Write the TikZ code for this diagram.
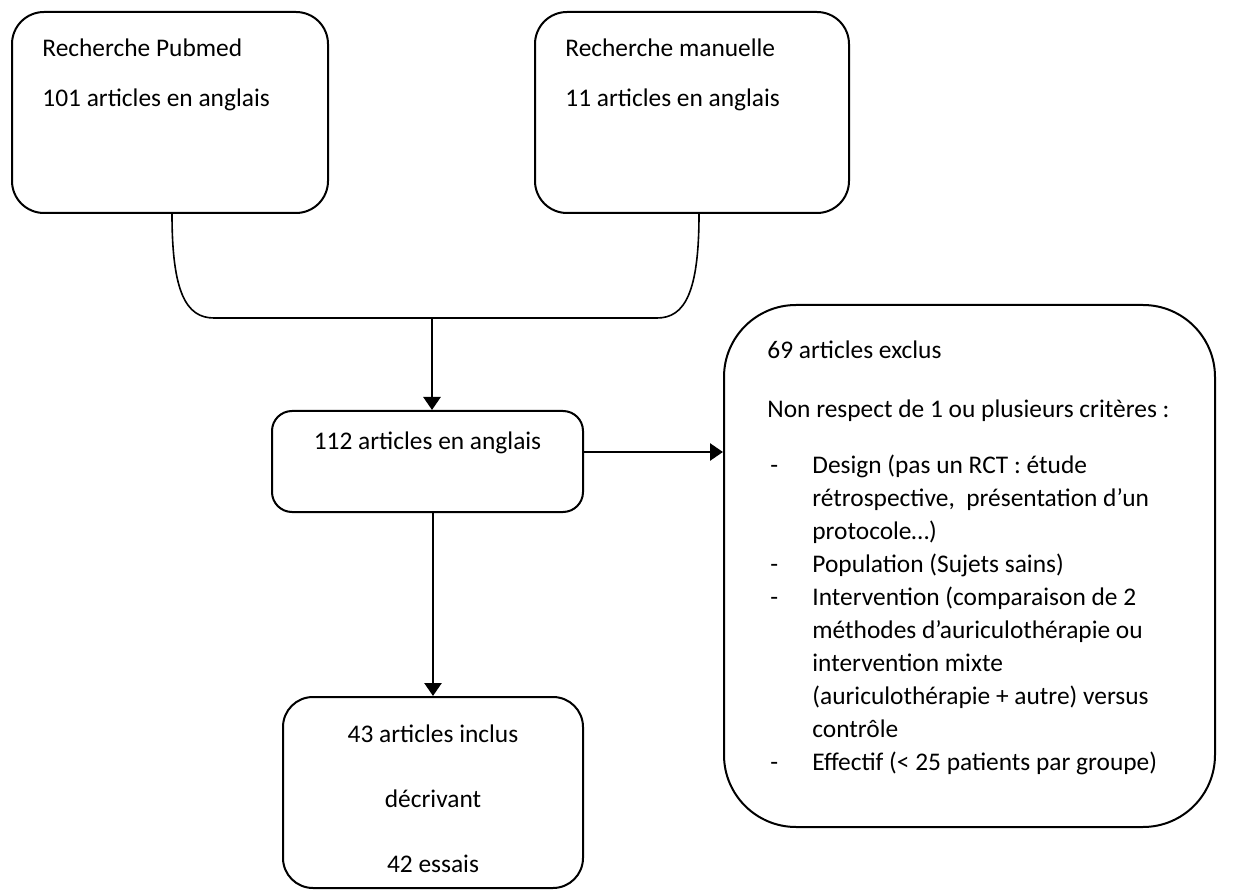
\documentclass[tikz,border=0pt]{standalone}
\usepackage{fontspec}
\setmainfont{Carlito}
\usetikzlibrary{arrows.meta}
\newcommand{\dsh}{\makebox[21pt][l]{-}}
\newcommand{\ind}{\hspace*{21pt}}
\begin{document}
\begin{tikzpicture}[x=0.5pt,y=-0.5pt,
  box/.style={draw,line width=1pt,rounded corners=#1,inner sep=0pt},
  txt/.style={inner sep=0pt,font=\fontsize{12.7}{16.5}\selectfont},
  arr/.style={line width=1.3pt,-{Triangle[length=6.5pt,width=8.5pt]}}]
\useasboundingbox (0,0) rectangle (1254,893);
\node[box=16pt,minimum width=158pt,minimum height=100.5pt](pubmed) at (170,112.5){};
\node[box=16pt,minimum width=157pt,minimum height=100.5pt](manual) at (692,112.5){};
\node[box=10pt,minimum width=155.5pt,minimum height=50.5pt](total) at (427.5,461.5){};
\node[box=36pt,minimum width=245.5pt,minimum height=261pt](excluded) at (969.5,566){};
\node[box=15pt,minimum width=150pt,minimum height=95.5pt](included) at (433,792.5){};
\node[txt,anchor=base west](pubmedA) at (42,57){Recherche Pubmed};
\node[txt,anchor=base west](pubmedB) at (42,107){101 articles en anglais};
\node[txt,anchor=base west](manualA) at (565,57){Recherche manuelle};
\node[txt,anchor=base west](manualB) at (565,107){11 articles en anglais};
\node[txt,anchor=base](totalA) at (427.5,450){112 articles en anglais};
\node[txt,anchor=base](includedA) at (433,742){43 articles inclus};
\node[txt,anchor=base](includedB) at (433,807){décrivant};
\node[txt,anchor=base](includedC) at (433,872){42 essais};
\node[txt,anchor=base west](excludedA) at (767,358){69 articles exclus};
\node[txt,anchor=base west](excludedB) at (767,417){Non respect de 1 ou plusieurs critères :};
\node[txt,anchor=base west,align=left](excludedC) at (770,770){\dsh Design (pas un RCT : étude\\
\ind rétrospective,\ \ présentation d’un\\
\ind protocole…)\\
\dsh Population (Sujets sains)\\
\dsh Intervention (comparaison de 2\\
\ind méthodes d’auriculothérapie ou\\
\ind intervention mixte\\
\ind (auriculothérapie + autre) versus\\
\ind contrôle\\
\dsh Effectif (< 25 patients par groupe)};
\coordinate (join) at (432,318);
\draw[line width=0.8pt]([xshift=1pt]pubmed.south) .. controls (172,292) and (186,318) .. (214,318) -- (join) -- (657,318) .. controls (685,318) and (699,292) .. ([xshift=3.5pt]manual.south);
\draw[arr](join) -- (join |- total.north);
\draw[arr](included.north |- total.south) -- (included.north);
\draw[arr]([yshift=4.75pt]total.east) -- ([yshift=4.75pt]total.east -| excluded.west);
\end{tikzpicture}
\end{document}
